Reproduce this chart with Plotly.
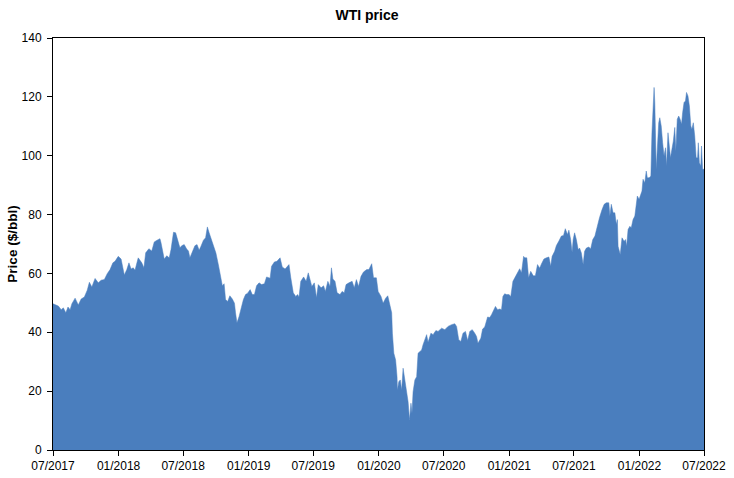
import plotly.graph_objects as go

dates = [
    "2017-07-01", "2017-07-07", "2017-07-16", "2017-07-24", "2017-07-30", "2017-08-06", "2017-08-12",
    "2017-08-18", "2017-08-23", "2017-09-01", "2017-09-10", "2017-09-18", "2017-09-27", "2017-10-05",
    "2017-10-11", "2017-10-18", "2017-10-27", "2017-11-05", "2017-11-13", "2017-11-22", "2017-11-30",
    "2017-12-08", "2017-12-16", "2017-12-22", "2017-12-31", "2018-01-08", "2018-01-17", "2018-01-24",
    "2018-01-30", "2018-02-05", "2018-02-11", "2018-02-16", "2018-02-25", "2018-03-07", "2018-03-13",
    "2018-03-18", "2018-03-27", "2018-04-04", "2018-04-11", "2018-04-19", "2018-04-27", "2018-04-30",
    "2018-05-04", "2018-05-09", "2018-05-16", "2018-05-23", "2018-05-28", "2018-06-04", "2018-06-10",
    "2018-06-16", "2018-06-22", "2018-06-27", "2018-07-04", "2018-07-11", "2018-07-16", "2018-07-20",
    "2018-07-27", "2018-08-03", "2018-08-09", "2018-08-15", "2018-08-20", "2018-08-27", "2018-09-02",
    "2018-09-07", "2018-09-12", "2018-09-19", "2018-09-26", "2018-10-01", "2018-10-08", "2018-10-14",
    "2018-10-19", "2018-10-24", "2018-10-28", "2018-11-03", "2018-11-09", "2018-11-16", "2018-11-22",
    "2018-11-25", "2018-11-29", "2018-12-05", "2018-12-10", "2018-12-17", "2018-12-23", "2018-12-29",
    "2019-01-05", "2019-01-11", "2019-01-17", "2019-01-23", "2019-01-30", "2019-02-06", "2019-02-14",
    "2019-02-20", "2019-03-02", "2019-03-06", "2019-03-14", "2019-03-21", "2019-03-30", "2019-04-05",
    "2019-04-13", "2019-04-17", "2019-04-24", "2019-04-29", "2019-05-06", "2019-05-13", "2019-05-18",
    "2019-05-22", "2019-05-27", "2019-06-04", "2019-06-11", "2019-06-17", "2019-06-23", "2019-06-27",
    "2019-07-04", "2019-07-10", "2019-07-15", "2019-07-23", "2019-07-30", "2019-08-04", "2019-08-11",
    "2019-08-17", "2019-08-21", "2019-08-25", "2019-08-31", "2019-09-06", "2019-09-14", "2019-09-20",
    "2019-09-26", "2019-10-01", "2019-10-09", "2019-10-18", "2019-10-24", "2019-10-30", "2019-11-05",
    "2019-11-12", "2019-11-19", "2019-11-28", "2019-12-04", "2019-12-12", "2019-12-17", "2019-12-25",
    "2019-12-30", "2020-01-07", "2020-01-13", "2020-01-20", "2020-01-26", "2020-02-01", "2020-02-06",
    "2020-02-08", "2020-02-12", "2020-02-17", "2020-02-21", "2020-02-22", "2020-02-26", "2020-03-01",
    "2020-03-05", "2020-03-09", "2020-03-14", "2020-03-19", "2020-03-23", "2020-03-27", "2020-03-31",
    "2020-04-03", "2020-04-06", "2020-04-11", "2020-04-16", "2020-04-20", "2020-04-25", "2020-04-30",
    "2020-05-04", "2020-05-09", "2020-05-14", "2020-05-18", "2020-05-26", "2020-06-01", "2020-06-09",
    "2020-06-15", "2020-06-25", "2020-07-04", "2020-07-13", "2020-07-23", "2020-08-01", "2020-08-06",
    "2020-08-12", "2020-08-18", "2020-08-24", "2020-08-31", "2020-09-06", "2020-09-12", "2020-09-19",
    "2020-09-26", "2020-10-01", "2020-10-05", "2020-10-13", "2020-10-18", "2020-10-24", "2020-11-01",
    "2020-11-07", "2020-11-12", "2020-11-16", "2020-11-23", "2020-11-29", "2020-12-05", "2020-12-10",
    "2020-12-14", "2020-12-19", "2020-12-24", "2020-12-31", "2021-01-05", "2021-01-11", "2021-01-18",
    "2021-01-26", "2021-01-30", "2021-02-04", "2021-02-10", "2021-02-13", "2021-02-19", "2021-02-24",
    "2021-03-02", "2021-03-09", "2021-03-15", "2021-03-21", "2021-03-27", "2021-04-01", "2021-04-08",
    "2021-04-15", "2021-04-22", "2021-04-27", "2021-05-01", "2021-05-08", "2021-05-13", "2021-05-20",
    "2021-05-27", "2021-06-02", "2021-06-07", "2021-06-13", "2021-06-17", "2021-06-22", "2021-06-26",
    "2021-06-29", "2021-07-03", "2021-07-08", "2021-07-13", "2021-07-17", "2021-07-22", "2021-07-27",
    "2021-07-31", "2021-08-05", "2021-08-12", "2021-08-17", "2021-08-23", "2021-08-29", "2021-09-02",
    "2021-09-07", "2021-09-11", "2021-09-18", "2021-09-24", "2021-09-30", "2021-10-07", "2021-10-10",
    "2021-10-14", "2021-10-19", "2021-10-24", "2021-10-28", "2021-10-31", "2021-11-02", "2021-11-06",
    "2021-11-08", "2021-11-13", "2021-11-19", "2021-11-23", "2021-11-26", "2021-11-30", "2021-12-05",
    "2021-12-09", "2021-12-14", "2021-12-19", "2021-12-23", "2021-12-26", "2021-12-31", "2022-01-05",
    "2022-01-08", "2022-01-11", "2022-01-16", "2022-01-20", "2022-01-23", "2022-01-28", "2022-02-02",
    "2022-02-05", "2022-02-09", "2022-02-11", "2022-02-13", "2022-02-15", "2022-02-17", "2022-02-20",
    "2022-02-24", "2022-02-27", "2022-03-03", "2022-03-07", "2022-03-11", "2022-03-15", "2022-03-18",
    "2022-03-22", "2022-03-26", "2022-03-29", "2022-04-02", "2022-04-06", "2022-04-10", "2022-04-13",
    "2022-04-17", "2022-04-21", "2022-04-25", "2022-04-29", "2022-05-02", "2022-05-06", "2022-05-10",
    "2022-05-13", "2022-05-17", "2022-05-21", "2022-05-25", "2022-05-28", "2022-06-01", "2022-06-05",
    "2022-06-09", "2022-06-13", "2022-06-15", "2022-06-18", "2022-06-22", "2022-06-24", "2022-06-27",
    "2022-07-01",
]

prices = [
    49.7, 49.3, 48.9, 47.7, 48.3, 46.6, 48.6,
    47.7, 49.7, 51.6, 49.3, 51.3, 52.0, 54.3,
    57.0, 55.4, 58.3, 56.8, 57.7, 57.9, 59.9,
    61.3, 63.6, 64.1, 65.8, 64.9, 59.5, 61.3,
    63.6, 61.5, 61.9, 61.1, 65.3, 63.6, 61.9,
    67.0, 68.4, 67.6, 70.7, 71.3, 71.8, 70.4,
    67.6, 64.9, 66.0, 65.3, 68.1, 74.0, 73.8,
    71.5, 68.7, 69.4, 69.8, 68.3, 67.6, 65.3,
    67.6, 69.4, 69.8, 67.9, 69.2, 71.3, 72.1,
    75.8, 73.8, 71.3, 69.2, 66.9, 62.9, 59.6,
    55.8, 56.5, 51.1, 50.5, 52.4, 51.3, 49.9,
    46.6, 43.2, 45.4, 47.7, 51.1, 52.8, 53.3,
    54.5, 52.8, 52.8, 55.8, 56.8, 56.2, 56.5,
    58.8, 58.4, 62.4, 63.9, 64.1, 65.3, 62.2,
    61.5, 62.2, 63.0, 58.5, 53.4, 52.2, 52.8,
    52.0, 57.3, 58.8, 57.3, 60.2, 57.9, 55.6,
    56.8, 51.7, 56.2, 55.1, 55.8, 53.9, 57.3,
    55.6, 61.9, 58.1, 57.3, 53.4, 52.8, 53.9,
    53.4, 56.2, 56.8, 57.3, 55.1, 57.9, 55.6,
    59.0, 60.5, 61.3, 61.3, 63.3, 58.5, 58.5,
    53.9, 52.2, 49.9, 51.6, 52.4, 48.8, 46.6,
    39.7, 32.9, 30.6, 24.9, 20.4, 23.2, 23.8,
    20.4, 27.8, 23.8, 20.4, 16.4, 10.2, 15.9,
    12.5, 19.8, 23.8, 24.9, 32.9, 33.5, 34.0,
    35.8, 37.5, 39.2, 36.6, 39.7, 39.2, 40.6,
    40.3, 41.4, 40.9, 42.0, 42.6, 42.9, 42.0,
    37.5, 36.9, 39.7, 40.3, 37.2, 40.3, 40.9,
    39.7, 38.6, 36.3, 38.0, 41.1, 41.8, 45.2,
    45.0, 46.0, 47.1, 48.8, 47.7, 47.9, 47.7,
    52.2, 53.1, 52.8, 52.8, 52.2, 57.3, 59.0,
    60.4, 61.6, 60.2, 65.8, 65.3, 65.3, 58.5,
    60.7, 59.2, 59.2, 63.0, 61.8, 63.2, 64.9,
    65.3, 65.6, 62.4, 65.8, 67.5, 69.5, 71.0,
    72.7, 72.9, 75.2, 73.2, 74.7, 71.5, 67.2,
    71.5, 73.8, 71.5, 68.1, 68.6, 66.9, 63.0,
    67.5, 68.6, 69.0, 68.3, 71.5, 72.7, 75.0,
    77.5, 79.0, 81.7, 83.5, 84.0, 84.0, 79.5,
    83.5, 80.6, 80.6, 76.6, 78.3, 69.2, 67.5,
    66.4, 72.1, 70.9, 71.5, 69.2, 74.9, 76.0,
    75.5, 78.3, 79.5, 84.0, 86.3, 85.2, 87.4,
    88.0, 92.0, 90.8, 94.8, 92.5, 92.5, 93.1,
    107.8, 120.3, 123.2, 118.1, 109.0, 95.4, 102.2,
    111.2, 112.9, 110.1, 104.4, 99.9, 102.7, 96.5,
    107.8, 103.3, 99.3, 102.2, 105.0, 109.6, 101.6,
    112.4, 113.5, 112.4, 110.7, 114.6, 118.1, 118.6,
    121.5, 120.3, 116.9, 110.1, 109.0, 111.2, 106.7,
    99.3, 99.3, 104.4, 97.6, 96.5, 103.3, 95.4,
    95.4,
]

title_text = "WTI price"
y_title = "Price ($/bbl)"
x_range = ["2017-07-01", "2022-07-01"]
y_range = [0, 140]

fill_color = "#4A7EBE"
font_family = "Liberation Sans, Arial, sans-serif"

fig = go.Figure()
fig.add_trace(go.Scatter(
    x=dates, y=prices, mode="lines", fill="tozeroy",
    fillcolor=fill_color, line=dict(color=fill_color, width=0.5),
    hoverinfo="x+y", showlegend=False,
))

fig.update_layout(
    width=734, height=478,
    margin=dict(l=53, r=30, t=38, b=28, autoexpand=False),
    paper_bgcolor="white", plot_bgcolor="white",
    font=dict(family=font_family, size=12, color="black"),
    title=dict(text="<b>" + title_text + "</b>", x=0.5, xref="container",
               y=1 - 15 / 478, yref="container", yanchor="middle",
               xanchor="center", font=dict(size=14, color="black"),
               automargin=False),
)

fig.update_xaxes(
    type="date", range=x_range, tickformat="%m/%Y", dtick="M6", tick0="2017-07-01",
    ticks="outside", ticklen=5, tickwidth=1, tickcolor="black",
    showline=True, linecolor="black", linewidth=1, mirror=True,
    showgrid=False, zeroline=False, automargin=False,
    tickfont=dict(size=12, color="black"),
)

fig.update_yaxes(
    range=y_range, dtick=20, tick0=0,
    ticks="outside", ticklen=5, tickwidth=1, tickcolor="black",
    showline=True, linecolor="black", linewidth=1, mirror=True,
    showgrid=False, zeroline=False, automargin=False,
    tickfont=dict(size=12, color="black"),
    ticklabelstandoff=3,
    title=dict(text="<b>" + y_title + "</b>", font=dict(size=13.5, color="black"), standoff=0),
)

fig.write_html("out.html")
